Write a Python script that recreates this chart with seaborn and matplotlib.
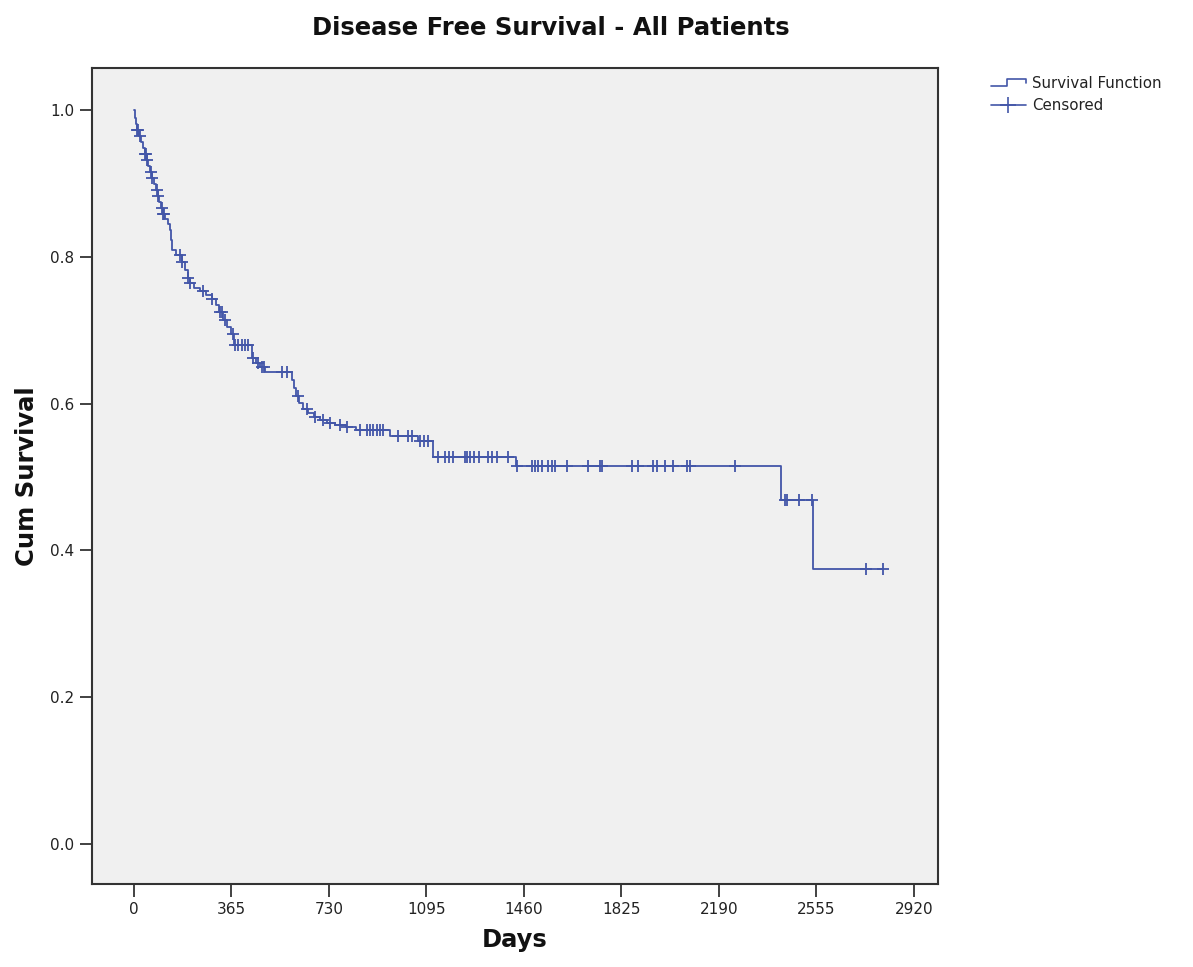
import numpy as np
import pandas as pd
import matplotlib
matplotlib.use("Agg")
import matplotlib.pyplot as plt
import seaborn as sns
from matplotlib.lines import Line2D
from matplotlib.legend_handler import HandlerBase

# ---------------- data ----------------
title = "Disease Free Survival - All Patients"
x_label = "Days"
y_label = "Cum Survival"
x_ticks = [0, 365, 730, 1095, 1460, 1825, 2190, 2555, 2920]
y_ticks = [0.0, 0.2, 0.4, 0.6, 0.8, 1.0]

# event times (days) and survival after each event
event_days = [0, 4, 7, 11, 19, 26, 34, 41, 49, 52, 60, 67, 75, 82, 90, 94, 101,
              109, 116, 127, 135, 139, 142, 157, 180, 191, 202, 210, 225, 247,
              270, 292, 307, 318, 333, 348, 363, 374, 442, 457, 472, 490, 592,
              599, 606, 618, 633, 651, 674, 696, 723, 752, 794, 831, 958, 1063,
              1119, 1430, 2422, 2542]
event_surv = [1.000, 0.989, 0.981, 0.973, 0.965, 0.956, 0.948, 0.940, 0.932,
              0.924, 0.916, 0.907, 0.899, 0.891, 0.883, 0.875, 0.866, 0.858,
              0.851, 0.845, 0.837, 0.823, 0.809, 0.802, 0.793, 0.782, 0.771,
              0.764, 0.757, 0.753, 0.748, 0.743, 0.734, 0.725, 0.714, 0.704,
              0.695, 0.680, 0.662, 0.655, 0.650, 0.643, 0.632, 0.621, 0.610,
              0.601, 0.593, 0.587, 0.582, 0.578, 0.574, 0.571, 0.568, 0.564,
              0.556, 0.549, 0.527, 0.515, 0.469, 0.375]
last_day = 2804

censored_days = [11, 15, 22, 41, 45, 49, 64, 67, 86, 90, 105, 109, 112, 172, 180,
                 202, 210, 258, 292, 322, 330, 341, 371, 378, 389, 404, 416, 427,
                 445, 464, 479, 487, 554, 573, 614, 648, 678, 708, 734, 771, 797,
                 846, 872, 884, 895, 910, 921, 932, 988, 1026, 1041, 1071, 1086,
                 1101, 1138, 1164, 1179, 1194, 1239, 1247, 1258, 1273, 1292, 1325,
                 1340, 1359, 1400, 1434, 1490, 1501, 1512, 1527, 1550, 1565, 1576,
                 1621, 1700, 1745, 1752, 1864, 1886, 1943, 1958, 1988, 2018, 2070,
                 2081, 2250, 2437, 2445, 2490, 2538, 2740, 2804]

# ---------------- build frames ----------------
step_t = np.array(event_days + [last_day], dtype=float)
step_s = np.array(event_surv + [event_surv[-1]], dtype=float)
curve = pd.DataFrame({"Days": step_t, "Surv": step_s})

cd = np.array(censored_days, dtype=float)
idx = np.searchsorted(np.array(event_days, dtype=float), cd, side="right") - 1
cens = pd.DataFrame({"Days": cd, "Surv": np.array(event_surv)[idx]})

# ---------------- style ----------------
sns.set_style("ticks")
plt.rcParams["font.family"] = ["DejaVu Sans"]
color = "#4356A8"
bg = "#F0F0F0"
frame = "#333333"

fig = plt.figure(figsize=(11.93, 9.67), dpi=100)
ax = fig.add_axes([92 / 1193, 1 - 884 / 967, (938 - 92) / 1193, (884 - 68) / 967])
ax.set_facecolor(bg)

sns.lineplot(data=curve, x="Days", y="Surv", ax=ax, color=color, lw=1.3,
             drawstyle="steps-post", estimator=None, sort=True)
sns.scatterplot(data=cens, x="Days", y="Surv", ax=ax, marker="+", s=70,
                color=color, linewidth=1.3, zorder=3)

ax.set_xlim(-157, 3010)
ax.set_ylim(-0.0545, 1.057)
ax.set_xticks(x_ticks)
ax.set_xticklabels([str(t) for t in x_ticks])
ax.set_yticks(y_ticks)
ax.set_yticklabels([f"{t:.1f}" for t in y_ticks])
ax.tick_params(axis="both", direction="out", length=9, width=1.3,
               colors=frame, labelsize=11, labelcolor="#222222", pad=4)
for sp in ax.spines.values():
    sp.set_visible(True)
    sp.set_color(frame)
    sp.set_linewidth(1.5)

ax.set_xlabel(x_label, fontsize=17.5, fontweight="bold", color="#111111", labelpad=8)
ax.set_ylabel(y_label, fontsize=17.5, fontweight="bold", color="#111111", labelpad=8)
fig.text(551 / 1193, 1 - 28 / 967, title, ha="center", va="center",
         fontsize=17.5, fontweight="bold", color="#111111")


class StepHandler(HandlerBase):
    def create_artists(self, legend, orig_handle, xdescent, ydescent, width,
                       height, fontsize, trans):
        x0, w, h = -xdescent, width, height
        y0 = -ydescent
        xs = [x0, x0 + 0.45 * w, x0 + 0.45 * w, x0 + w, x0 + w]
        ys = [y0 + 0.15 * h, y0 + 0.15 * h, y0 + 0.85 * h, y0 + 0.85 * h, y0 + 0.45 * h]
        ln = Line2D(xs, ys, color=color, lw=1.2, transform=trans)
        return [ln]


h_surv = Line2D([], [], color=color, lw=1.2)
h_cens = Line2D([], [], color=color, lw=1.2, marker="+", markersize=11,
                markeredgewidth=1.2)
leg = fig.legend([h_surv, h_cens], ["Survival Function", "Censored"],
                 loc="upper left", bbox_to_anchor=(985 / 1193, 1 - 70 / 967),
                 frameon=False, fontsize=10.8, handlelength=2.3,
                 handletextpad=0.45, labelspacing=0.45, borderaxespad=0,
                 handler_map={h_surv: StepHandler()})
for t in leg.get_texts():
    t.set_color("#222222")

fig.savefig("out.png", dpi=100, facecolor="white")
